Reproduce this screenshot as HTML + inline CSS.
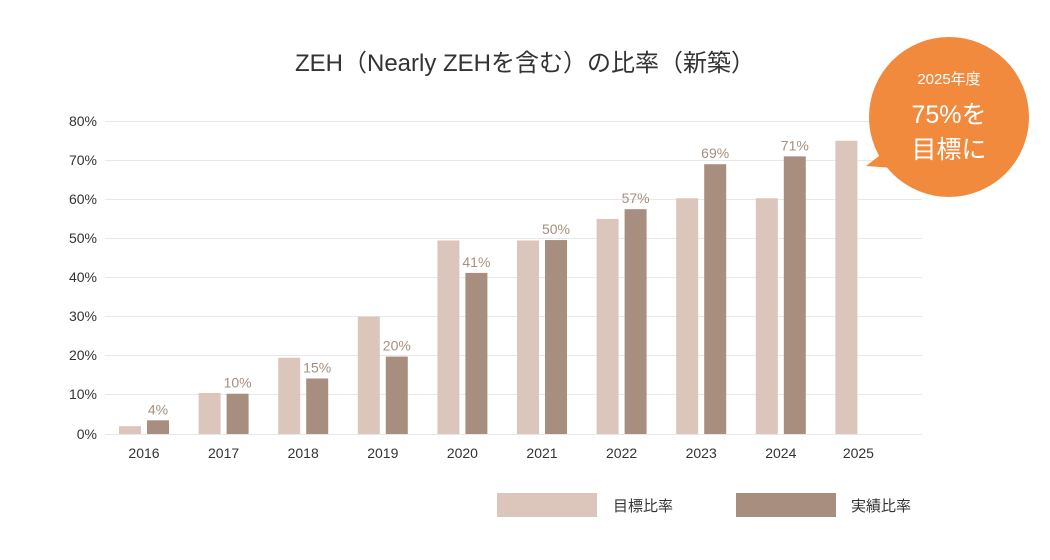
<html><head><style>body{margin:0;background:#fff}</style></head><body>
<svg width="1050" height="560" xmlns="http://www.w3.org/2000/svg" font-family="Liberation Sans, Noto Sans CJK JP, sans-serif">
<rect width="1050" height="560" fill="#fff"/>
<text x="525" y="71" text-anchor="middle" font-size="24" fill="#333">ZEH（Nearly ZEHを含む）の比率（新築）</text>
<g stroke="#e8e8e8" stroke-width="1">
<line x1="105" x2="922" y1="121.5" y2="121.5"/><line x1="105" x2="922" y1="160.5" y2="160.5"/><line x1="105" x2="922" y1="199.5" y2="199.5"/><line x1="105" x2="922" y1="238.5" y2="238.5"/><line x1="105" x2="922" y1="277.5" y2="277.5"/><line x1="105" x2="922" y1="316.5" y2="316.5"/><line x1="105" x2="922" y1="355.5" y2="355.5"/><line x1="105" x2="922" y1="394.5" y2="394.5"/><line x1="105" x2="922" y1="434.5" y2="434.5"/>
</g>
<g font-size="14" fill="#333" text-anchor="end">
<text x="97" y="126">80%</text><text x="97" y="165">70%</text><text x="97" y="204">60%</text><text x="97" y="243">50%</text><text x="97" y="282">40%</text><text x="97" y="321">30%</text><text x="97" y="360">20%</text><text x="97" y="399">10%</text><text x="97" y="439">0%</text>
</g>
<g id="bars"></g>
<g font-size="14" fill="#333" text-anchor="middle" id="xl"></g>
<g font-size="14" fill="#a88e7f" text-anchor="middle" id="vl"></g>
<path d="M866 166 L900 140 L920 170 Z" fill="#f28a3e"/>
<circle cx="949" cy="117" r="80" fill="#f28a3e"/>
<text x="949" y="84" text-anchor="middle" font-size="15" fill="#fff">2025年度</text>
<text x="949" y="123" text-anchor="middle" font-size="25" fill="#fff">75%を</text>
<text x="949" y="158" text-anchor="middle" font-size="25" fill="#fff">目標に</text>
<rect x="497" y="493" width="100" height="24" fill="#dcc6bc"/>
<text x="613" y="511" font-size="15" fill="#333">目標比率</text>
<rect x="736" y="493" width="100" height="24" fill="#a88e7f"/>
<text x="851" y="511" font-size="15" fill="#333">実績比率</text>
</svg>
<script>
var L=[2,10.5,19.5,30,49.5,49.5,55,60.3,60.3,75],D=[3.5,10.3,14.2,19.8,41.2,49.6,57.5,69,71,null],V=["4%","10%","15%","20%","41%","50%","57%","69%","71%"];
var ns="http://www.w3.org/2000/svg",b=document.getElementById("bars"),xl=document.getElementById("xl"),vl=document.getElementById("vl");
function el(t,a,p,txt){var e=document.createElementNS(ns,t);for(var k in a)e.setAttribute(k,a[k]);if(txt)e.textContent=txt;p.appendChild(e);}
for(var i=0;i<10;i++){var c=144+i*79.6;
var h=L[i]*3.91;el("rect",{x:c-25,y:434-h,width:22,height:h,fill:"#dcc6bc"},b);
if(D[i]!=null){var h2=D[i]*3.91;el("rect",{x:c+3,y:434-h2,width:22,height:h2,fill:"#a88e7f"},b);
el("text",{x:c+14,y:434-h2-6},vl,V[i]);}
el("text",{x:i==9?c-2:c,y:458},xl,String(2016+i));}
</script>
</body></html>
